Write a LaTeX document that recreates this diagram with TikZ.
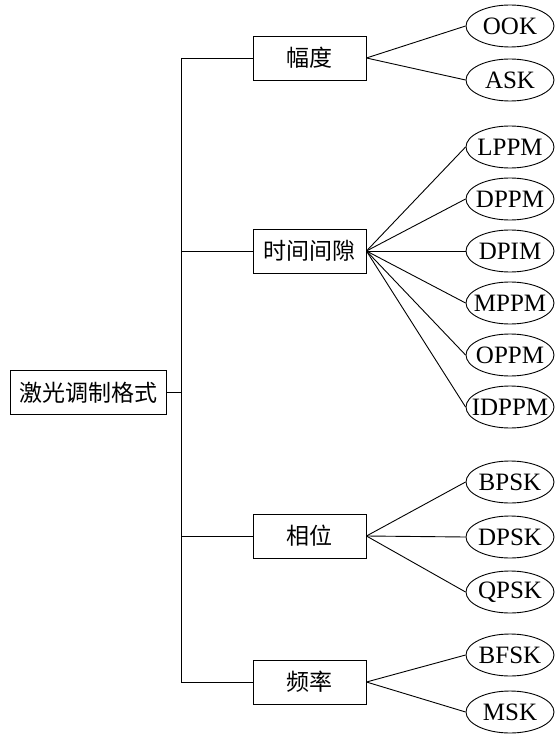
\documentclass[tikz,border=0pt]{standalone}
\usepackage{fontspec}
\setmainfont{Liberation Serif}
\newfontfamily\cjk{Noto Sans CJK SC}
\usepackage{tikz}
\usetikzlibrary{shapes.geometric}

\begin{document}
\begin{tikzpicture}[x=1pt,y=-1pt,line width=0.9pt,every node/.style={inner sep=0pt},box/.style={draw,rectangle,minimum width=113pt,minimum height=44pt,font=\cjk\fontsize{23}{23}\selectfont},
leaf/.style={draw,ellipse,inner xsep=-12pt,minimum width=88pt,minimum height=42pt,font=\fontsize{25}{25}\selectfont}]
\useasboundingbox (0,0) rectangle (556,735);
\node [box,minimum width=156pt] (root) at (88,392.5) {激光调制格式};
\node [box] (amp) at (309.5,58) {幅度};
\node [box] (time) at (309.5,251) {时间间隙};
\node [box] (phase) at (309.5,536) {相位};
\node [box] (freq) at (309.5,682) {频率};
\coordinate (top) at (181,58);
\coordinate (bot) at (181,682);
\node [leaf] (ook) at (510,26) {OOK};
\node [leaf] (ask) at (510,80) {ASK};
\node [leaf] (lppm) at (510,147) {LPPM};
\node [leaf] (dppm) at (510,199) {DPPM};
\node [leaf] (dpim) at (510,251) {DPIM};
\node [leaf] (mppm) at (510,303) {MPPM};
\node [leaf] (oppm) at (510,355) {OPPM};
\node [leaf] (idppm) at (510,407) {IDPPM};
\node [leaf] (bpsk) at (510,482) {BPSK};
\node [leaf] (dpsk) at (510,537) {DPSK};
\node [leaf] (qpsk) at (510,592) {QPSK};
\node [leaf] (bfsk) at (510,655) {BFSK};
\node [leaf] (msk) at (510,712) {MSK};
\draw (top) -- (bot);
\draw (root.east) -- (root.east -| top);
\foreach \b in {amp,time,phase,freq} \draw (\b.west) -- (\b.west -| top);
\foreach \l in {ook,ask} \draw (amp.east) -- (\l.west);
\foreach \l in {lppm,dppm,dpim,mppm,oppm,idppm} \draw (time.east) -- (\l.west);
\foreach \l in {bpsk,dpsk,qpsk} \draw (phase.east) -- (\l.west);
\foreach \l in {bfsk,msk} \draw (freq.east) -- (\l.west);
\end{tikzpicture}
\end{document}
